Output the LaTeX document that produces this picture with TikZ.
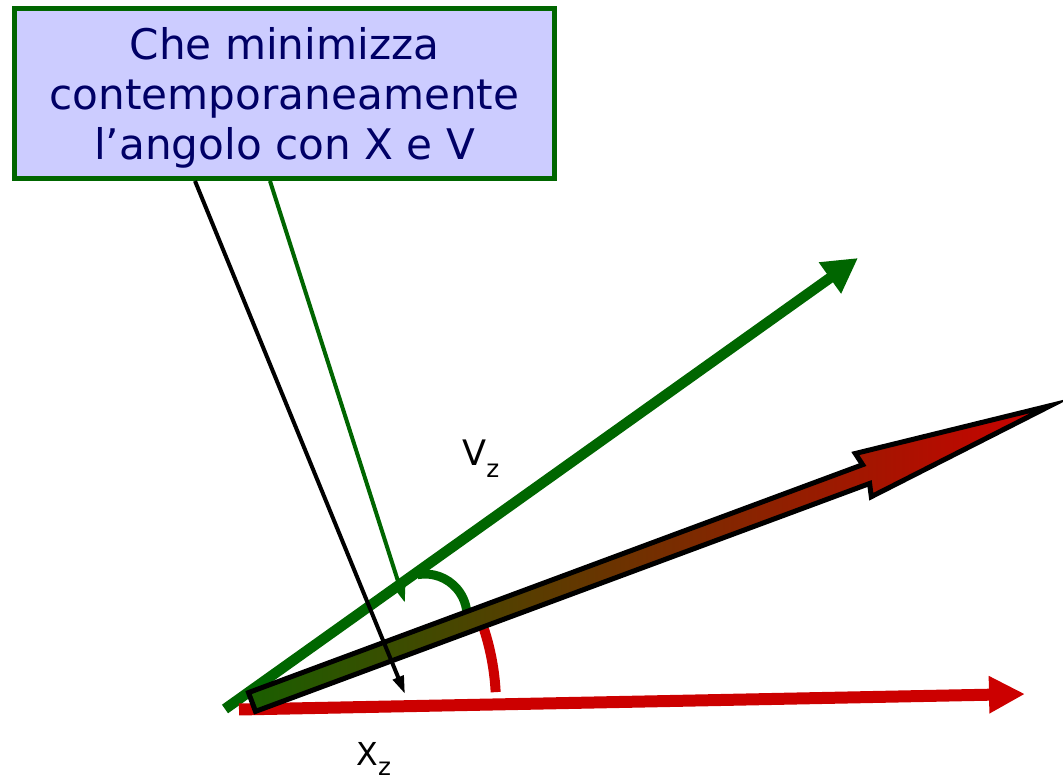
\documentclass[tikz,border=0pt]{standalone}
\usepackage{fontspec}
\setmainfont{DejaVu Sans}
\usetikzlibrary{arrows.meta,calc}
\definecolor{leaf}{HTML}{006600}
\definecolor{blood}{HTML}{CC0000}
\definecolor{lilac}{HTML}{CCCCFF}
\definecolor{navy}{HTML}{000066}
\definecolor{moss}{HTML}{1A5E00}

\begin{document}
\begin{tikzpicture}[x=0.02cm,y=-0.02cm,
  vec/.style={line width=0.21cm},
  pointer/.style={line width=0.08cm,-{Triangle[length=0.36cm,width=0.22cm]}},
  anglemark/.style={line width=0.18cm}]
\useasboundingbox (0,0) rectangle (1063,784);
\coordinate (o) at (250,705);
\coordinate (vs) at (225,709); \coordinate (vt) at (858,258);
\coordinate (xs) at (239,709.5); \coordinate (xt) at (1025,694);
\coordinate (xhit) at (405,694); \coordinate (vhit) at (405,603);
% the two vectors and their angles
\draw[vec,leaf,-{Triangle[length=0.69cm,width=0.72cm]}] (vs) -- (vt);
\draw[vec,line width=0.24cm,blood,-{Triangle[length=0.72cm,width=0.7cm]}] (xs) -- (xt);
\draw[anglemark,leaf] (425,616) ++(-100:42) arc[start angle=-100,end angle=0,radius=42];
\draw[anglemark,line width=0.2cm,blood] (o) ++(-3:246) arc[start angle=-3,end angle=-18,radius=246];
% the resulting direction
\shadedraw[draw=black,line width=0.1cm,left color=moss,right color=blood] (248.5,692.6) -- (862.6,464.7) -- (855.3,453.5) -- (1050.8,405.5) -- (871.3,496.7) -- (869.6,483.5) -- (255.5,711.4) -- cycle;
\node[draw=leaf,line width=0.1cm,fill=lilac,minimum width=10.8cm,minimum height=3.4cm] (box) at (284.5,93.5) {};
\node[align=center,text=navy,font=\fontsize{24}{28.5}\selectfont] (boxtext) at (284.5,98) {Che minimizza\\contemporaneamente\\l’angolo con X e V};
\draw[pointer] (box.south -| 195,0) -- (xhit);
\draw[pointer,leaf] (box.south -| 270,0) -- (vhit);
\node[anchor=base west,inner sep=0,font=\fontsize{20}{24}\selectfont] (vlab) at (462,465) {V\raisebox{-7pt}{\fontsize{14}{16}\selectfont z}};
\node[anchor=base west,inner sep=0,font=\fontsize{18}{22}\selectfont] (xlab) at (356,765) {X\raisebox{-6pt}{\fontsize{14}{16}\selectfont z}};
\end{tikzpicture}
\end{document}
